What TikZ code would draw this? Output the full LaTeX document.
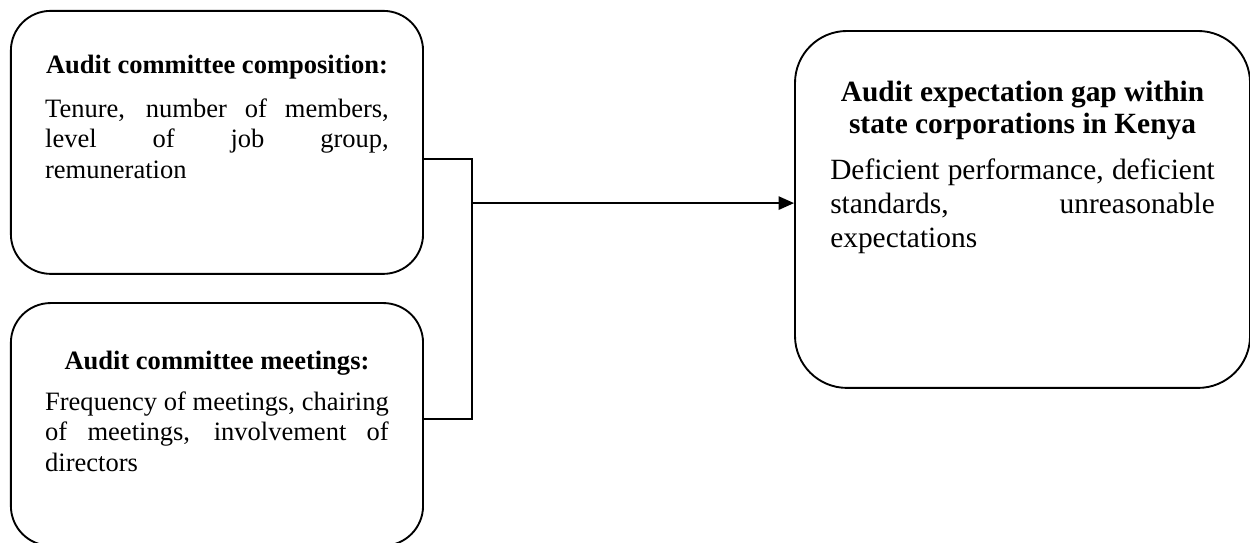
\documentclass[tikz,border=0pt]{standalone}
\usepackage{fontspec}
\setmainfont{Liberation Serif}
\usetikzlibrary{arrows.meta}
\hyphenpenalty=10000
\tolerance=10000

\tikzset{
  factor/.style={draw, line width=0.85pt, rounded corners=18pt, inner sep=0pt, anchor=north west},
  link/.style={line width=0.9pt},
}

\begin{document}
\begin{tikzpicture}[x=1pt,y=-1pt]
        \useasboundingbox (0,0) rectangle (565.6,245.3);
        % independent variables
		\node[factor, minimum width=186.5pt, minimum height=119pt] (comp) at (4.5,4.5) {\parbox[c][79.2pt][t]{155.5pt}{\fontsize{12}{13.8}\selectfont
			{\centering\bfseries Audit committee composition:\par}\vspace{6.1pt}
			Tenure, number of members,\linebreak level of job group,\linebreak remuneration}};
		\node[factor, minimum width=186.5pt, minimum height=109.8pt] (meet) at (4.5,136.7) {\parbox[c][66.6pt][t]{155.5pt}{\fontsize{12}{13.8}\selectfont
			{\centering\bfseries Audit committee meetings:\par}\vspace{4.8pt}
			Frequency of meetings, chairing\linebreak of meetings, involvement of\linebreak directors}};
        % dependent variable
		\node[factor, rounded corners=23.5pt, minimum width=205.9pt, minimum height=161.5pt] (gap) at (359.3,13.6) {\parbox[c][116.1pt][t]{174pt}{\fontsize{13.3}{14.5}\selectfont
			{\centering\bfseries Audit expectation gap within\\ state corporations in Kenya\par}\fontsize{13.3}{15.4}\selectfont\vspace{5.4pt}
			Deficient performance, deficient\linebreak standards, unreasonable\linebreak expectations}};
        % joining lines
		\coordinate (jtop) at (213.6,71.9);
		\coordinate (jbot) at (213.6,189.6);
		\coordinate (join) at (213.6,91.9);
		\draw[link] (comp.east |- jtop) -- (jtop) -- (jbot) -- (meet.east |- jbot);
		\draw[link, -{Triangle[length=7pt,width=6pt]}] (join) -- (gap.west |- join);
	\end{tikzpicture}
\end{document}
